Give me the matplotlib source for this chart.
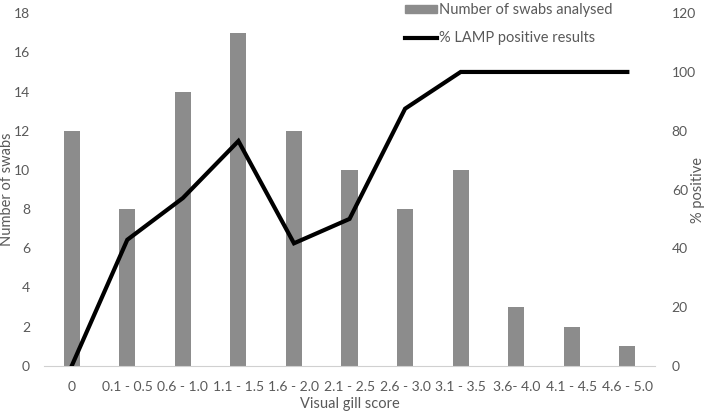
import numpy as np
import matplotlib.pyplot as plt
from matplotlib.patches import Rectangle
from matplotlib.lines import Line2D

plt.rcParams['font.family'] = ['Lato', 'DejaVu Sans']

categories = ['0', '0.1 - 0.5', '0.6 - 1.0', '1.1 - 1.5', '1.6 - 2.0', '2.1 - 2.5',
              '2.6 - 3.0', '3.1 - 3.5', '3.6- 4.0', '4.1 - 4.5', '4.6 - 5.0']
swabs = [12, 8, 14, 17, 12, 10, 8, 10, 3, 2, 1]
pct_positive = [0, 42.9, 57.1, 76.5, 41.7, 50, 87.5, 100, 100, 100, 100]

txt = '#595959'
x = np.arange(len(categories))

fig = plt.figure(figsize=(7.09, 4.12), dpi=100)
ax = fig.add_axes([0.062, 0.112, 0.862, 0.856])
ax2 = ax.twinx()

ax.bar(x, swabs, width=0.29, color='#8c8c8c', zorder=2)
ax2.plot(x, pct_positive, color='black', lw=3, solid_joinstyle='miter', zorder=3)

ax.set_xlim(-0.5, len(categories) - 0.5)
ax.set_ylim(0, 18)
ax.set_yticks(range(0, 19, 2))
ax2.set_ylim(0, 120)
ax2.set_yticks(range(0, 121, 20))

for a in (ax, ax2):
    for s in a.spines.values():
        s.set_visible(False)
    a.tick_params(length=0, labelsize=10, colors=txt)
ax.spines['bottom'].set_visible(True)
ax.spines['bottom'].set_color('#d0d0d0')
ax.set_xticks(x)
ax.set_xticklabels(categories)
ax.tick_params(axis='x', pad=11)
ax.tick_params(axis='y', pad=10)
ax2.tick_params(axis='y', pad=12)

ax.set_xlabel('Visual gill score', fontsize=10.5, color=txt, labelpad=3)
ax.set_ylabel('Number of swabs', fontsize=10.5, color=txt)
ax2.set_ylabel('% positive', fontsize=10.5, color=txt)
ax.yaxis.set_label_coords(-0.049, 0.5)
ax2.yaxis.set_label_coords(1.058, 0.5)

handles = [Rectangle((0, 0), 1, 1, color='#8c8c8c'),
           Line2D([0], [0], color='black', lw=3)]
labels = ['Number of swabs analysed', '% LAMP positive results']
fig.legend(handles, labels, loc='upper left', bbox_to_anchor=(0.553, 1.025),
           frameon=False, fontsize=10.5, labelcolor=txt, handlelength=2.2,
           handleheight=0.45, handletextpad=0.1, labelspacing=1.0)

fig.savefig('out.png', dpi=100)
